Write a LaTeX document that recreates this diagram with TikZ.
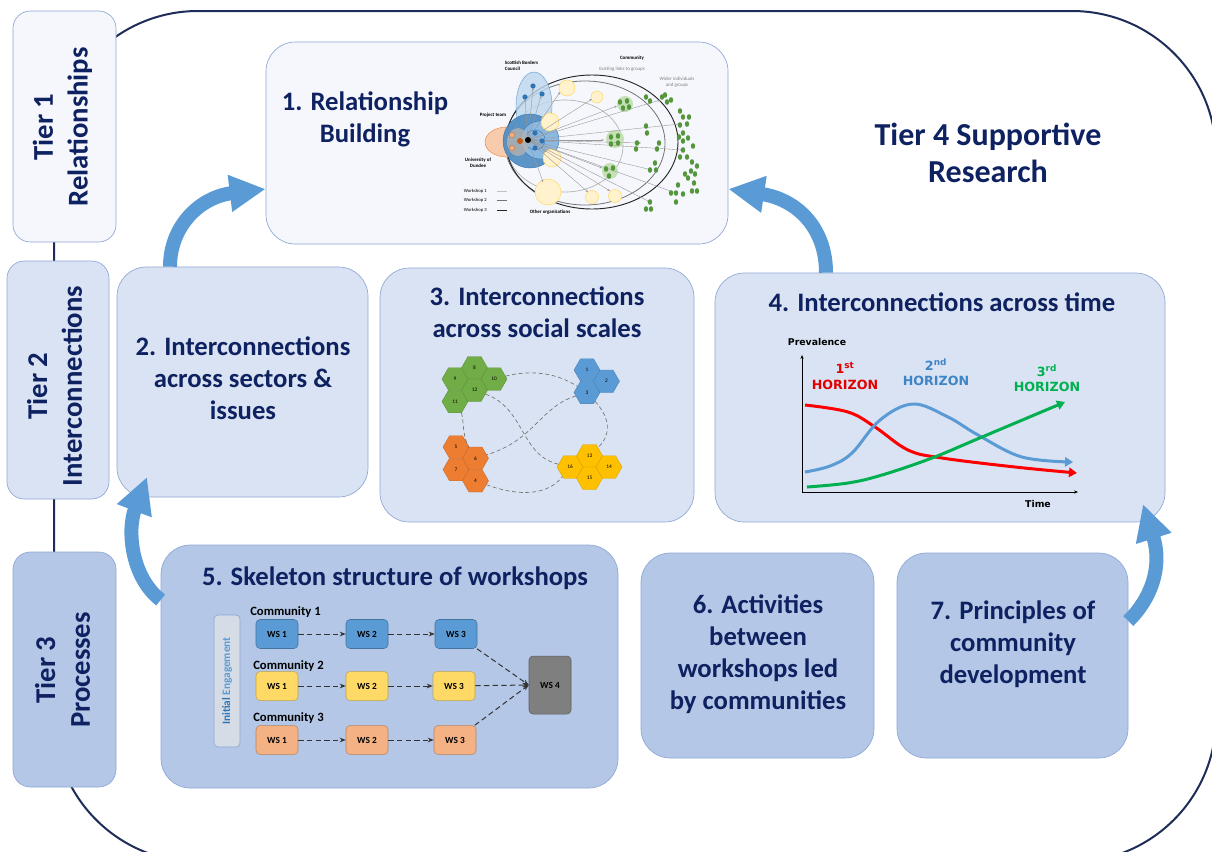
\documentclass[tikz,border=0pt]{standalone}
\usepackage{amsmath,amssymb,graphicx,xcolor,tikz}
\usepackage{fontspec}
\setmainfont{Carlito}
\newfontfamily\chartfont{DejaVu Sans}
\usetikzlibrary{arrows.meta,shapes.geometric}

\definecolor{navytext}{RGB}{14,33,96}
\definecolor{framenavy}{RGB}{30,44,88}
\definecolor{palefill}{RGB}{245,247,252}
\definecolor{lightfill}{RGB}{218,227,243}
\definecolor{midfill}{RGB}{180,199,231}
\definecolor{edgeblue}{RGB}{143,166,212}
\definecolor{bendblue}{RGB}{91,155,213}
\definecolor{wsblue}{RGB}{91,155,213}
\definecolor{wsyellow}{RGB}{255,217,102}
\definecolor{wspeach}{RGB}{244,177,131}
\definecolor{wsgrey}{RGB}{127,127,127}
\definecolor{engagefill}{RGB}{214,220,229}
\definecolor{hexgreen}{RGB}{112,173,71}
\definecolor{hexblue}{RGB}{91,155,213}
\definecolor{hexorange}{RGB}{237,125,49}
\definecolor{hexyellow}{RGB}{255,192,0}
\definecolor{horred}{RGB}{255,0,0}
\definecolor{horredtext}{RGB}{224,0,0}
\definecolor{horblue}{RGB}{91,155,213}
\definecolor{horbluetext}{RGB}{61,133,198}
\definecolor{horgreen}{RGB}{0,176,80}
\definecolor{netgreen}{RGB}{84,150,60}
\definecolor{netpalegreen}{RGB}{197,224,180}
\definecolor{netyellow}{RGB}{255,242,204}
\definecolor{netyellowedge}{RGB}{255,217,102}
\definecolor{netpeach}{RGB}{248,203,173}
\definecolor{netorange}{RGB}{197,90,17}
\definecolor{netblue}{RGB}{46,117,182}
\definecolor{netskyblue}{RGB}{189,215,238}

\begin{document}
\begin{tikzpicture}[x=0.75pt,y=0.75pt,yscale=-1,xscale=1,
  tierbox/.style={draw=edgeblue, line width=0.5pt, rounded corners=13pt, inner sep=0pt},
  panel/.style={draw=edgeblue, line width=0.5pt, rounded corners=22pt, inner sep=0pt},
  heading/.style={text=navytext, font=\fontsize{20}{24}\selectfont\bfseries, align=center, inner sep=0.75pt},
  tierlabel/.style={text=navytext, font=\fontsize{21.5}{26}\selectfont\bfseries, align=center, rotate=90, inner sep=0.75pt},
  bendarrow/.style={draw=bendblue, line width=10.5pt, -{Triangle[width=26pt,length=27pt]}},
  ws/.style={draw=#1!75!black, fill=#1, line width=0.4pt, rounded corners=3pt, minimum width=31.5pt, minimum height=21.75pt, inner sep=0pt, font=\fontsize{7}{8}\selectfont\bfseries},
  commlabel/.style={anchor=west, inner sep=0.75pt, font=\fontsize{9.5}{11}\selectfont\bfseries},
  wslink/.style={draw=black!80, dash pattern=on 4pt off 2.5pt, line width=0.75pt, -{Stealth[length=4.5pt,width=3.5pt]}},
  hex/.style={regular polygon, regular polygon sides=6, minimum size=19.5pt, inner sep=0pt, fill=#1, draw=#1!85!black, line width=0.3pt, font=\fontsize{4}{4}\selectfont},
  hexlink/.style={draw=black!55, dash pattern=on 3pt off 2pt, line width=0.5pt},
  hzcurve/.style={draw=#1, line width=2.25pt, -{Triangle[width=7pt,length=6pt]}},
  hzlabel/.style={text=#1, font=\chartfont\fontsize{9.5}{11.5}\selectfont\bfseries, align=center, inner sep=0.75pt},
  netlabel/.style={font=\fontsize{3.7}{4.4}\selectfont\bfseries, align=center, inner sep=0.5pt},
  netlink/.style={draw=black!40, line width=0.3pt, -{Stealth[length=2pt,width=1.6pt]}}
]

\useasboundingbox (0,0) rectangle (1212,851);

\begin{scope}
\clip (0,0) rectangle (1212,851);
\draw [draw=framenavy, line width=1.5pt, rounded corners=108pt] (54,11) rectangle (1216,862);
\end{scope}

\node [tierbox, fill=palefill, minimum width=77.25pt, minimum height=173.25pt] (tier1) at (64.5,126.5) {};

\node [tierbox, fill=lightfill, minimum width=76.5pt, minimum height=178.5pt] (tier2) at (58,380) {};

\node [tierbox, fill=midfill, minimum width=77.25pt, minimum height=176.25pt] (tier3) at (64.5,669.5) {};

\node [panel, fill=palefill, minimum width=346.5pt, minimum height=151.5pt] (box1) at (497,143) {};

\node [panel, fill=lightfill, minimum width=188.25pt, minimum height=172.5pt] (box2) at (242.5,382) {};

\node [panel, fill=lightfill, minimum width=235.5pt, minimum height=190.5pt] (box3) at (537,395) {};

\node [panel, fill=lightfill, minimum width=337.5pt, minimum height=186.75pt] (box4) at (940,397.5) {};

\node [panel, fill=midfill, minimum width=342.75pt, minimum height=182.25pt] (box5) at (389.5,666.5) {};

\node [panel, fill=midfill, minimum width=174.75pt, minimum height=153.75pt] (box6) at (757.5,655.5) {};

\node [panel, fill=midfill, minimum width=173.25pt, minimum height=153.75pt] (box7) at (1012.5,655.5) {};

\node [tierlabel] (tier1text) at (62.5,127) {Tier 1\\Relationships};

\node [tierlabel] (tier2text) at (54.5,386) {Tier 2\\Interconnections};

\node [tierlabel] (tier3text) at (62.5,670) {Tier 3\\Processes};

\node [heading] (box1text) at (365,119) {1. Relationship\\Building};

\node [heading, font=\fontsize{24}{28}\selectfont\bfseries] (tier4text) at (988,153) {Tier 4 Supportive\\Research};

\node [heading] (box2text) at (243,378) {2. Interconnections\\across sectors \&\\issues};

\node [heading] (box3text) at (537,312) {3. Interconnections\\across social scales};

\node [heading] (box4text) at (942,302) {4. Interconnections across time};

\node [heading] (box5text) at (395,578) {5. Skeleton structure of workshops};

\node [heading] (box6text) at (758,654.5) {6. Activities\\between\\workshops led\\by communities};

\node [heading] (box7text) at (1013,644) {7. Principles of\\community\\development};

\coordinate (tipC) at (147,477);

\coordinate (tipD) at (1143,504);

\draw [bendarrow] (box2.north -| 170,0) .. controls (170,226) and (200,197) .. (box1.west |- 0,189);

\draw [bendarrow] (box4.north -| 826,0) .. controls (826,226) and (795,199) .. (box1.east |- 0,189);

\draw [bendarrow] (box5.west |- 0,600) .. controls (131,577) and (127,530) .. (tipC);

\draw [bendarrow] (box7.east |- 0,621) .. controls (1150,600) and (1163,568) .. (tipD);

\draw [draw=black!30, line width=0.5pt] (565,146) ellipse (58 and 46);

\draw [draw=black!55, line width=0.6pt] (585,143) ellipse (80 and 62);

\draw [draw=black!85, line width=0.7pt] (592,142) ellipse (86 and 67);

\filldraw [fill=netskyblue, draw=bendblue, line width=0.3pt, fill opacity=0.8] (534,106) ellipse (18 and 34);

\filldraw [fill=netpeach, draw=hexorange, line width=0.3pt] (507,142) ellipse (22 and 15);

\filldraw [fill=netblue!85, draw=netblue, line width=0.3pt, fill opacity=0.9] (530,141) circle (27);

\filldraw [fill=bendblue!70, draw=netblue, line width=0.3pt] (540,140) circle (19);

\draw [draw=netblue, line width=0.3pt] (535,140) circle (10);

\fill [black!30, opacity=0.8] (518,142) ellipse (11 and 14);

\foreach \yx/\yy/\yr in {567/88/8, 597/97/6, 550/122/9, 552/158/9, 548/192/13, 592/197/6.5, 615/196/6.5}
  \filldraw [fill=netyellow, draw=netyellowedge, line width=0.4pt] (\yx,\yy) circle (\yr);

\foreach \cx/\cy/\cr in {625/104/8, 615/139/9, 610/171/8}
  \fill [netpalegreen] (\cx,\cy) circle (\cr);

\foreach \lx/\ly in {533/88, 525/99, 541/96, 560/92, 592/99, 617/106, 604/140, 602/168, 546/152, 543/182, 588/192, 610/191, 641/143, 680/124, 683/150, 652/170, 676/193, 650/202, 660/100}
  \draw [netlink] (528,140) -- (\lx,\ly);

\foreach \gx/\gy in {620/102, 627/101, 623/108, 629/107, 611/137, 618/136, 611/144, 618/143, 606/169, 613/168, 609/176,
  646/97, 650/101, 662/97, 665/95, 667/102, 671/100, 680/111, 683/117, 689/117, 680/125, 687/124, 646/126, 647/133,
  683/133, 679/137, 688/138, 693/146, 683/141, 683/150, 680/157, 687/157, 659/143, 657/149, 637/143, 636/149, 655/163,
  650/170, 656/170, 692/162, 697/166, 691/171, 685/174, 695/174, 688/178, 694/183, 678/185, 692/191, 697/191, 671/193,
  676/193, 683/194, 676/202, 650/202, 651/209, 646/209}
  \fill [netgreen] (\gx,\gy) ellipse (2.2 and 2.8);

\foreach \bx/\by in {533/86, 525/97, 542/94, 535/133, 542/141, 535/148}
  \fill [netblue] (\bx,\by) circle (2.6);

\filldraw [fill=wspeach, draw=netorange, line width=0.2pt] (512,135) circle (2.6);

\filldraw [fill=wspeach, draw=netorange, line width=0.2pt] (512,148) circle (2.6);

\fill [netorange] (520,141) circle (3);

\fill [black] (528,140) circle (3);

\node [netlabel, align=left, anchor=north west] (netcouncil) at (504,60) {Scottish Borders\\Council};

\node [netlabel] (netcommunity) at (632,58) {Community};

\node [netlabel, text=black!50, font=\fontsize{3.7}{4.4}\selectfont] (netexisting) at (622,69) {Existing links to groups};

\node [netlabel, text=black!50, font=\fontsize{3.7}{4.6}\selectfont] (netwider) at (677,82) {Wider individuals\\and groups};

\node [netlabel] (netteam) at (493,115) {Project team};

\node [netlabel] (netdundee) at (478,163) {University of\\Dundee};

\node [netlabel] (netother) at (550,212) {Other organisations};

\foreach \wn/\wy/\wc in {1/191/black!25, 2/200/black!55, 3/210/black!85} {
  \node [netlabel, font=\fontsize{3.5}{4}\selectfont, anchor=west] (netws\wn) at (463,\wy) {Workshop \wn};
  \draw [draw=\wc, line width=0.5pt] (497,\wy) -- (507,\wy);
}

\foreach \n/\hx/\hy/\hc in {9/455/379/hexgreen, 11/455/401.5/hexgreen, 8/474.5/367.75/hexgreen, 12/474.5/390.25/hexgreen, 10/494/379/hexgreen,
  1/587/370/hexblue, 3/587/392.5/hexblue, 2/606.5/381.25/hexblue,
  5/456/447/hexorange, 7/456/469.5/hexorange, 6/475.5/458.25/hexorange, 4/475.5/480.75/hexorange,
  16/570/467/hexyellow, 13/589.5/455.75/hexyellow, 15/589.5/478.25/hexyellow, 14/609/467/hexyellow}
  \node [hex=\hc] (h\n) at (\hx,\hy) {\n};

\draw [hexlink] (h10) .. controls (530,370) and (555,372) .. (h3);

\draw [hexlink] (h3) .. controls (540,407) and (535,440) .. (h6);

\draw [hexlink] (h12) .. controls (525,408) and (520,455) .. (h16);

\draw [hexlink] (h11) .. controls (464,418) and (462,436) .. (h6);

\draw [hexlink] (h3) .. controls (612,420) and (610,436) .. (h13);

\draw [hexlink] (h4) .. controls (520,497) and (548,495) .. (h16);

\coordinate (origin) at (802,492);

\draw [line width=0.6pt, -{Stealth[length=3pt,width=2.5pt]}] (origin) -- (802,355);

\draw [line width=0.6pt, -{Stealth[length=3pt,width=2.5pt]}] (origin) -- (1078,492);

\node [font=\chartfont\fontsize{7}{8}\selectfont\bfseries, inner sep=0.75pt] (prevalence) at (817,342) {Prevalence};

\node [font=\chartfont\fontsize{7}{8}\selectfont\bfseries, inner sep=0.75pt] (timelabel) at (1038,504) {Time};

\draw [hzcurve=horred] plot [smooth, tension=0.6] coordinates {(805,405) (848,412) (875,427) (908,450) (942,458) (1015,467) (1077,473)};

\draw [hzcurve=horblue] plot [smooth, tension=0.6] coordinates {(805,472) (830,466) (852,453) (880,420) (913,404) (948,417) (978,435) (1022,457) (1073,462)};

\draw [hzcurve=horgreen] plot [smooth, tension=0.6] coordinates {(807,487) (848,483) (882,475) (932,458) (982,437) (1065,402)};

\node [hzlabel=horredtext] (horizon1) at (845,376) {1\textsuperscript{st}\\HORIZON};

\node [hzlabel=horbluetext] (horizon2) at (936,372) {2\textsuperscript{nd}\\HORIZON};

\node [hzlabel=horgreen] (horizon3) at (1047,378) {3\textsuperscript{rd}\\HORIZON};

\node [draw=edgeblue, fill=engagefill, line width=0.5pt, rounded corners=3pt, minimum width=19.5pt, minimum height=99pt, inner sep=0pt] (engage) at (227,681) {};

\node [rotate=90, font=\fontsize{8.5}{10}\selectfont\bfseries, inner sep=0.75pt] (engagetext) at (227,681) {\textcolor{netblue}{Initial} \textcolor{bendblue}{Engagement}};

\node [commlabel] (comm1) at (249,612) {Community 1};

\node [commlabel] (comm2) at (252,666) {Community 2};

\node [commlabel] (comm3) at (252,718) {Community 3};

\node [ws=wsblue] (ws11) at (277,634) {WS 1};

\node [ws=wsblue] (ws12) at (367,634) {WS 2};

\node [ws=wsblue] (ws13) at (456,634) {WS 3};

\node [ws=wsyellow] (ws21) at (277,686) {WS 1};

\node [ws=wsyellow] (ws22) at (367,686) {WS 2};

\node [ws=wsyellow] (ws23) at (454,686) {WS 3};

\node [ws=wspeach] (ws31) at (277,740) {WS 1};

\node [ws=wspeach] (ws32) at (367,740) {WS 2};

\node [ws=wspeach] (ws33) at (455,740) {WS 3};

\node [ws=wsgrey, minimum height=43.5pt] (ws4) at (550,685) {WS 4};

\draw [wslink] (ws11) -- (ws12);

\draw [wslink] (ws12) -- (ws13);

\draw [wslink] (ws21) -- (ws22);

\draw [wslink] (ws22) -- (ws23);

\draw [wslink] (ws31) -- (ws32);

\draw [wslink] (ws32) -- (ws33);

\draw [wslink] (ws13) -- (ws4.west);

\draw [wslink] (ws23) -- (ws4.west);

\draw [wslink] (ws33) -- (ws4.west);

\end{tikzpicture}
\end{document}
